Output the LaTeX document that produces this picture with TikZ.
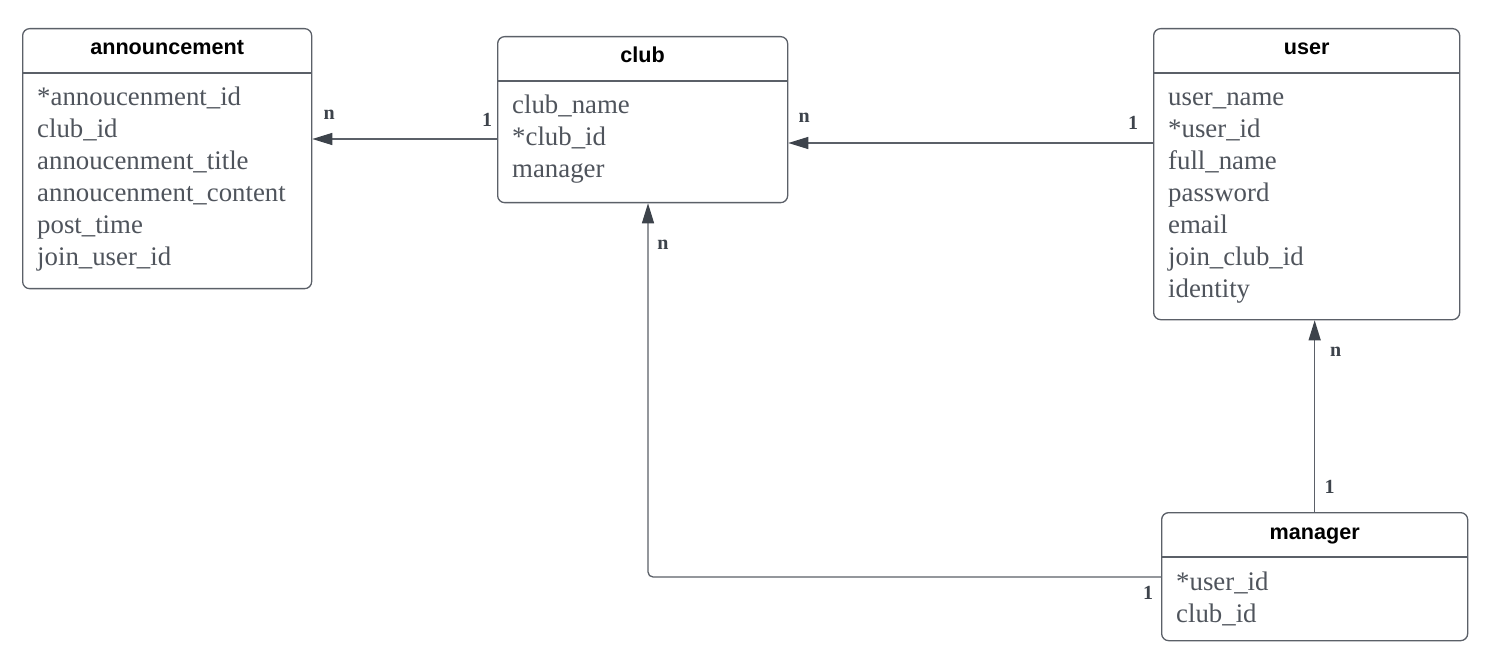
\documentclass[tikz,border=0pt]{standalone}
\usepackage{fontspec}
\setmainfont{Liberation Serif}
\newfontfamily\headfont{Liberation Sans}
\usetikzlibrary{calc,arrows.meta}
\definecolor{edgegray}{HTML}{5B6068}
\definecolor{fieldgray}{HTML}{4F545C}
\definecolor{tipgray}{HTML}{3D434B}
\tikzset{
	entity/.style={draw=edgegray,line width=1.3pt,rounded corners=7pt,anchor=north west,inner sep=0pt},
	head/.style={anchor=base,inner sep=0pt,font=\headfont\bfseries\fontsize{21.6}{26}\selectfont},
	field/.style={anchor=base west,inner sep=0pt,text=fieldgray,font=\fontsize{26.8}{32}\selectfont},
	card/.style={inner sep=0pt,text=tipgray,font=\bfseries\fontsize{20}{22}\selectfont},
	rule/.style={draw=edgegray,line width=1.3pt},
	rel/.style={draw=edgegray,line width=1.3pt,-{Triangle[length=20pt,width=12pt,color=tipgray]}}
}
\begin{document}
\begin{tikzpicture}[x=1pt,y=-1pt]
			\path[use as bounding box,fill=white] (0,0) rectangle (1496,668);
			% announcement
			\node[entity,minimum width=289,minimum height=260] (announcement) at (22,28) {};
			\node[head] (announcement-t) at ($(announcement.north)+(0,27)$) {announcement};
			\draw[rule] ($(announcement.north west)+(0,45)$) -- ($(announcement.north east)+(0,45)$);
			\foreach \f [count=\i] in {*annoucenment\_id,club\_id,annoucenment\_title,annoucenment\_content,post\_time,join\_user\_id}
				\node[field] (announcement-\i) at ($(announcement.north west)+(15,46+32*\i)$) {\f};
			% club
			\node[entity,minimum width=290,minimum height=166] (club) at (497,36) {};
			\node[head] (club-t) at ($(club.north)+(0,27)$) {club};
			\draw[rule] ($(club.north west)+(0,45)$) -- ($(club.north east)+(0,45)$);
			\foreach \f [count=\i] in {club\_name,*club\_id,manager}
				\node[field] (club-\i) at ($(club.north west)+(15,46+32*\i)$) {\f};
			% user
			\node[entity,minimum width=306,minimum height=291] (user) at (1153,28) {};
			\node[head] (user-t) at ($(user.north)+(0,27)$) {user};
			\draw[rule] ($(user.north west)+(0,45)$) -- ($(user.north east)+(0,45)$);
			\foreach \f [count=\i] in {user\_name,*user\_id,full\_name,password,email,join\_club\_id,identity}
				\node[field] (user-\i) at ($(user.north west)+(15,46+32*\i)$) {\f};
			% manager
			\node[entity,minimum width=306,minimum height=128] (manager) at (1161,512) {};
			\node[head] (manager-t) at ($(manager.north)+(0,27)$) {manager};
			\draw[rule] ($(manager.north west)+(0,45)$) -- ($(manager.north east)+(0,45)$);
			\foreach \f [count=\i] in {*user\_id,club\_id}
				\node[field] (manager-\i) at ($(manager.north west)+(15,46+32*\i)$) {\f};
			% relations
			\path
			($(club.north west)+(0,103)$) coordinate (club-a)
			($(club.south west)+(151,0)$) coordinate (club-b)
			($(user.north west)+(0,115)$) coordinate (user-a)
			($(manager.north west)+(0,65)$) coordinate (manager-b);
			\draw[rel] (club-a) -- (club-a -| announcement.east);
			\draw[rel] (user-a) -- (user-a -| club.east);
			\draw[rel] (manager.north) -- (manager.north |- user.south);
			\draw[rel,rounded corners=5pt] (manager-b) -| (club-b);
			\node[card] (club-a-1) at ($(club-a)+(-10,-19)$) {1};
			\node[card] (announcement-n) at ($(club-a -| announcement.east)+(17,-24)$) {n};
			\node[card] (user-a-1) at ($(user-a)+(-20,-20)$) {1};
			\node[card] (club-n) at ($(user-a -| club.east)+(16,-25)$) {n};
			\node[card] (manager-1) at ($(manager.north)+(15,-25)$) {1};
			\node[card] (user-n) at ($(manager.north |- user.south)+(21,31)$) {n};
			\node[card] (manager-b-1) at ($(manager-b)+(-13,16)$) {1};
			\node[card] (club-b-n) at ($(club-b)+(15,41)$) {n};
		\end{tikzpicture}
\end{document}
